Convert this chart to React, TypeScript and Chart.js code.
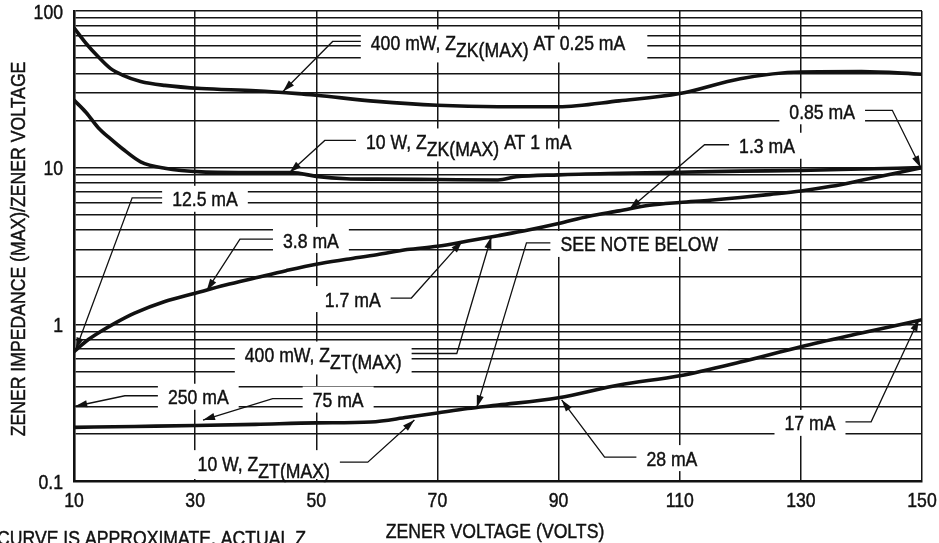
import React, { useEffect, useRef } from "react";
import { Chart, registerables } from "chart.js";

Chart.register(...registerables);

const FONT = '"Liberation Sans", Arial, Helvetica, sans-serif';
const SX = 0.84; // horizontal condensing of the Helvetica-like lettering

// ---- axis ticks ----
const xTickValues = [10, 30, 50, 70, 90, 110, 130, 150];
const yDecades = [0.1, 1, 10, 100];
const yTickLabels = ["0.1", "1", "10", "100"];

// ---- series (volts -> Z(max)/Vz) ----
const zk400Volts = [10, 12, 14, 16, 18, 21, 25, 31, 40, 47, 50, 60, 70, 80, 90, 100, 110, 120, 130, 140, 150];
const zk400Imp = [78, 62, 51, 43, 39, 35.5, 33.5, 32, 31, 29.7, 29, 26.5, 25, 24.5, 24.5, 26.7, 29.7, 37, 40.8, 41, 39.5];

const zk10Volts = [10, 12, 14, 16, 18, 21, 25, 31, 40, 46, 50, 55, 60, 70, 80, 83, 90, 100, 110, 120, 130, 140, 150];
const zk10Imp = [27, 22.5, 18, 15.3, 13.2, 10.9, 9.9, 9.4, 9.3, 9.3, 8.8, 8.5, 8.45, 8.4, 8.35, 8.75, 9.0, 9.2, 9.35, 9.5, 9.6, 9.8, 10];

const zt400Volts = [10, 12, 14, 17, 20, 25, 30, 35, 40, 45, 50, 55, 60, 65, 70, 75, 80, 85, 90, 95, 100, 105, 110, 115, 120, 125, 130, 135, 140, 145, 150];
const zt400Imp = [0.67, 0.78, 0.88, 1.03, 1.18, 1.4, 1.58, 1.78, 1.98, 2.2, 2.42, 2.6, 2.78, 3.0, 3.15, 3.4, 3.68, 4.0, 4.4, 4.9, 5.3, 5.75, 6.0, 6.2, 6.45, 6.75, 7.1, 7.6, 8.3, 9.1, 10];

const zt10Volts = [10, 20, 30, 40, 50, 59, 65, 70, 75, 80, 90, 100, 110, 120, 130, 140, 150];
const zt10Imp = [0.22, 0.223, 0.226, 0.23, 0.235, 0.238, 0.255, 0.272, 0.29, 0.305, 0.34, 0.41, 0.47, 0.575, 0.72, 0.88, 1.07];

// ---- callout labels (text, anchor in data units, leader side, elbow, arrow tip) ----
type Seg = { t: string; sub?: boolean };
type Callout = { segs: Seg[]; x: number; y: number; side: "left" | "right"; elbowX: number; tipX: number; tipY: number; padR?: number };

const callouts: Callout[] = [
  { segs: [{ t: "400 mW, Z" }, { t: "ZK(MAX)", sub: true }, { t: " AT 0.25 mA" }], x: 59.0, y: 63, side: "left", elbowX: 52.7, tipX: 44.5, tipY: 30.6, padR: 22 },
  { segs: [{ t: "10 W, Z" }, { t: "ZK(MAX)", sub: true }, { t: " AT 1 mA" }], x: 58.2, y: 14.7, side: "left", elbowX: 51.4, tipX: 45.6, tipY: 9.3 },
  { segs: [{ t: "0.85 mA" }], x: 128.1, y: 22.9, side: "right", elbowX: 145.1, tipX: 149.8, tipY: 10 },
  { segs: [{ t: "1.3 mA" }], x: 119.8, y: 13.8, side: "left", elbowX: 114.1, tipX: 101.7, tipY: 5.45 },
  { segs: [{ t: "12.5 mA" }], x: 26.2, y: 6.33, side: "left", elbowX: 19.6, tipX: 10.3, tipY: 0.69 },
  { segs: [{ t: "3.8 mA" }], x: 44.5, y: 3.45, side: "left", elbowX: 37.4, tipX: 31.9, tipY: 1.64 },
  { segs: [{ t: "SEE NOTE BELOW" }], x: 90.3, y: 3.26, side: "left", elbowX: 84.7, tipX: 76.5, tipY: 0.295 },
  { segs: [{ t: "1.7 mA" }], x: 51.4, y: 1.45, side: "right", elbowX: 65.7, tipX: 74.1, tipY: 3.4 },
  { segs: [{ t: "400 mW, Z" }, { t: "ZT(MAX)", sub: true }], x: 38.2, y: 0.642, side: "right", elbowX: 73.2, tipX: 78.9, tipY: 3.62 },
  { segs: [{ t: "250 mA" }], x: 25.5, y: 0.345, side: "left", elbowX: 18.4, tipX: 10.2, tipY: 0.3 },
  { segs: [{ t: "75 mA" }], x: 49.4, y: 0.331, side: "left", elbowX: 42.8, tipX: 31.3, tipY: 0.245 },
  { segs: [{ t: "10 W, Z" }, { t: "ZT(MAX)", sub: true }], x: 30.4, y: 0.13, side: "right", elbowX: 58.5, tipX: 66.2, tipY: 0.245 },
  { segs: [{ t: "28 mA" }], x: 104.5, y: 0.14, side: "left", elbowX: 97.6, tipX: 90.5, tipY: 0.33 },
  { segs: [{ t: "17 mA" }], x: 127.3, y: 0.235, side: "right", elbowX: 141.6, tipX: 149.5, tipY: 1.08 },
];

const yTitle = "ZENER IMPEDANCE (MAX)/ZENER VOLTAGE";
const xTitle = "ZENER VOLTAGE (VOLTS)";
const noteText = "CURVE IS APPROXIMATE. ACTUAL Z";

const TEXT_SIZE = 21;
const SUB_DY = 7;

function pts(xs: number[], ys: number[]) {
  return xs.map((x, i) => ({ x, y: ys[i] }));
}

function tw(ctx: CanvasRenderingContext2D, t: string) {
  return ctx.measureText(t).width * SX;
}

function segWidth(ctx: CanvasRenderingContext2D, segs: Seg[]) {
  return segs.reduce((s, g) => s + tw(ctx, g.t), 0);
}

function drawText(ctx: CanvasRenderingContext2D, t: string, x: number, y: number, align: CanvasTextAlign = "left") {
  ctx.save();
  ctx.translate(x, y);
  ctx.scale(SX, 1);
  ctx.textAlign = align;
  ctx.lineWidth = 0.45;
  ctx.strokeStyle = "#111";
  ctx.fillText(t, 0, 0);
  ctx.strokeText(t, 0, 0);
  ctx.restore();
}

const calloutPlugin = {
  id: "callouts",
  beforeDatasetsDraw(chart: any) {
    const ctx: CanvasRenderingContext2D = chart.ctx;
    const xs = chart.scales.x;
    const ys = chart.scales.y;
    const a = chart.chartArea;
    ctx.save();
    ctx.beginPath();
    ctx.rect(a.left + 2, a.top + 1, a.right - a.left - 3, a.bottom - a.top - 3);
    ctx.clip();
    ctx.font = `${TEXT_SIZE}px ${FONT}`;
    ctx.fillStyle = "#ffffff";
    for (const c of callouts) {
      const lx = xs.getPixelForValue(c.x);
      const cy = ys.getPixelForValue(c.y);
      const w = segWidth(ctx, c.segs);
      const hasSub = c.segs.some((s) => s.sub);
      const padL = 10;
      const padR = c.padR ?? 10;
      ctx.fillRect(lx - padL, cy - 13, w + padL + padR, 26 + (hasSub ? SUB_DY : 0));
    }
    ctx.restore();
  },
  afterDatasetsDraw(chart: any) {
    const ctx: CanvasRenderingContext2D = chart.ctx;
    const xs = chart.scales.x;
    const ys = chart.scales.y;
    ctx.save();
    ctx.font = `${TEXT_SIZE}px ${FONT}`;
    ctx.textBaseline = "alphabetic";
    ctx.fillStyle = "#111";
    for (const c of callouts) {
      const lx = xs.getPixelForValue(c.x);
      const cy = ys.getPixelForValue(c.y);
      const w = segWidth(ctx, c.segs);
      let px = lx;
      for (const s of c.segs) {
        drawText(ctx, s.t, px, cy + 7.5 + (s.sub ? SUB_DY : 0));
        px += tw(ctx, s.t);
      }
      const padL = 10;
      const padR = c.padR ?? 10;
      const startX = c.side === "left" ? lx - padL : lx + w + padR;
      const ly = cy - 1;
      const ex = xs.getPixelForValue(c.elbowX);
      const tx = xs.getPixelForValue(c.tipX);
      const ty = ys.getPixelForValue(c.tipY);
      ctx.strokeStyle = "#111";
      ctx.lineWidth = 1.3;
      ctx.beginPath();
      ctx.moveTo(startX, ly);
      ctx.lineTo(ex, ly);
      ctx.lineTo(tx, ty);
      ctx.stroke();
      const ang = Math.atan2(ty - ly, tx - ex);
      const L = 12, H = 3.6;
      ctx.beginPath();
      ctx.moveTo(tx, ty);
      ctx.lineTo(tx - L * Math.cos(ang) + H * Math.sin(ang), ty - L * Math.sin(ang) - H * Math.cos(ang));
      ctx.lineTo(tx - L * Math.cos(ang) - H * Math.sin(ang), ty - L * Math.sin(ang) + H * Math.cos(ang));
      ctx.closePath();
      ctx.fill();
    }
    ctx.restore();
  },
  afterDraw(chart: any) {
    const ctx: CanvasRenderingContext2D = chart.ctx;
    const a = chart.chartArea;
    const xs = chart.scales.x;
    const ys = chart.scales.y;
    ctx.save();
    ctx.fillStyle = "#111";
    ctx.font = `${TEXT_SIZE}px ${FONT}`;
    ctx.textBaseline = "alphabetic";
    // tick labels
    for (const v of xTickValues) {
      drawText(ctx, String(v), xs.getPixelForValue(v), a.bottom + 26, "center");
    }
    yDecades.forEach((d, i) => {
      drawText(ctx, yTickLabels[i], a.left - 11, ys.getPixelForValue(d) + 7.5, "right");
    });
    // axis titles
    ctx.save();
    ctx.translate(25, 249);
    ctx.rotate(-Math.PI / 2);
    drawText(ctx, yTitle, 0, 0, "center");
    ctx.restore();
    drawText(ctx, xTitle, 495, 538, "center");
    drawText(ctx, noteText, -3, 545, "left");
    ctx.restore();
  },
};

export default function App() {
  const ref = useRef<HTMLCanvasElement | null>(null);
  useEffect(() => {
    document.body.style.margin = "0";
    const canvas = ref.current!;
    const yTicks: number[] = [];
    for (const d of yDecades) {
      if (d === 100) { yTicks.push(100); break; }
      for (let k = 1; k <= 9; k++) yTicks.push(Number((d * k).toPrecision(3)));
    }
    const chart = new Chart(canvas, {
      type: "line",
      data: {
        datasets: [
          { label: "400 mW ZZK", data: pts(zk400Volts, zk400Imp) },
          { label: "10 W ZZK", data: pts(zk10Volts, zk10Imp) },
          { label: "400 mW ZZT", data: pts(zt400Volts, zt400Imp) },
          { label: "10 W ZZT", data: pts(zt10Volts, zt10Imp) },
        ].map((d) => ({
          ...d,
          borderColor: "#111",
          borderWidth: 3.6,
          pointRadius: 0,
          fill: false,
          cubicInterpolationMode: "monotone" as const,
        })),
      },
      options: {
        responsive: false,
        animation: false,
        layout: { padding: { left: 0, right: 17, top: 11, bottom: 0 } },
        plugins: { legend: { display: false }, tooltip: { enabled: false } },
        scales: {
          x: {
            type: "linear",
            min: 10,
            max: 150,
            afterBuildTicks: (s: any) => { s.ticks = xTickValues.map((v) => ({ value: v })); },
            afterFit: (s: any) => { s.height = 62; },
            grid: { color: "#151515", lineWidth: 1.5, drawTicks: false },
            border: { display: true, color: "#111", width: 2.6 },
            ticks: { display: false },
          },
          y: {
            type: "logarithmic",
            min: 0.1,
            max: 100,
            afterBuildTicks: (s: any) => { s.ticks = yTicks.map((v) => ({ value: v })); },
            afterFit: (s: any) => { s.width = 74; },
            grid: { color: "#151515", lineWidth: 1.5, drawTicks: false },
            border: { display: true, color: "#111", width: 2.6 },
            ticks: { display: false },
          },
        },
      },
      plugins: [calloutPlugin],
    });
    return () => chart.destroy();
  }, []);
  return (
    <div style={{ position: "fixed", left: 0, top: 0, width: 939, height: 543, background: "#fff" }}>
      <canvas ref={ref} width={939} height={543} style={{ display: "block" }} />
    </div>
  );
}
